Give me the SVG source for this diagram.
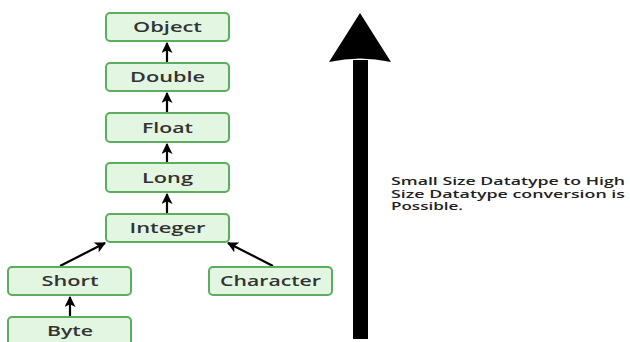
<svg xmlns="http://www.w3.org/2000/svg" width="630" height="342" viewBox="0 0 630 342">
  <style>
    .box { fill: #e2f6e1; stroke: #5cad60; stroke-width: 2; }
    .lbl { font-family: "Open Sans", "Liberation Sans", sans-serif; font-weight: 600; font-size: 15px; fill: #333333; text-anchor: middle; }
    .edge { stroke: #000000; stroke-width: 2.2; fill: none; marker-end: url(#head); }
    .note { font-family: "Open Sans", "Liberation Sans", sans-serif; font-weight: 600; font-size: 10.5px; fill: #222222; }
  </style>
  <defs>
    <marker id="head" viewBox="0 0 10 10" refX="9" refY="5" markerWidth="5" markerHeight="5" markerUnits="strokeWidth" orient="auto">
      <path d="M0,0 L10,5 L0,10 L2.5,5 Z" fill="#000000"/>
    </marker>
  </defs>
  <rect width="630" height="342" fill="#ffffff"/>

  <g id="connectors">
    <line class="edge" x1="167" y1="63" x2="167" y2="43"/>
    <line class="edge" x1="167" y1="113" x2="167" y2="93"/>
    <line class="edge" x1="167" y1="163" x2="167" y2="144"/>
    <line class="edge" x1="167" y1="214" x2="167" y2="194"/>
    <line class="edge" x1="60" y1="266" x2="105" y2="243"/>
    <line class="edge" x1="273" y1="266" x2="228" y2="243"/>
    <line class="edge" x1="70" y1="317" x2="70" y2="297"/>
  </g>

  <g id="node-object">
    <rect class="box" x="106" y="13" width="123" height="28" rx="4"/>
    <text class="lbl" x="167.5" y="32" textLength="69" lengthAdjust="spacingAndGlyphs">Object</text>
  </g>
  <g id="node-double">
    <rect class="box" x="106" y="63" width="123" height="28" rx="4"/>
    <text class="lbl" x="167.5" y="82" textLength="75" lengthAdjust="spacingAndGlyphs">Double</text>
  </g>
  <g id="node-float">
    <rect class="box" x="106" y="113" width="123" height="29" rx="4"/>
    <text class="lbl" x="167.5" y="132.5" textLength="51" lengthAdjust="spacingAndGlyphs">Float</text>
  </g>
  <g id="node-long">
    <rect class="box" x="106" y="163" width="123" height="29" rx="4"/>
    <text class="lbl" x="167.5" y="182.5" textLength="51" lengthAdjust="spacingAndGlyphs">Long</text>
  </g>
  <g id="node-integer">
    <rect class="box" x="106" y="214" width="123" height="28" rx="4"/>
    <text class="lbl" x="167.5" y="233" textLength="76" lengthAdjust="spacingAndGlyphs">Integer</text>
  </g>
  <g id="node-short">
    <rect class="box" x="8" y="267" width="123" height="28" rx="4"/>
    <text class="lbl" x="70" y="286" textLength="57" lengthAdjust="spacingAndGlyphs">Short</text>
  </g>
  <g id="node-character">
    <rect class="box" x="209" y="267" width="123" height="28" rx="4"/>
    <text class="lbl" x="270.5" y="286" textLength="101" lengthAdjust="spacingAndGlyphs">Character</text>
  </g>
  <g id="node-byte">
    <rect class="box" x="8" y="317" width="123" height="30" rx="4"/>
    <text class="lbl" x="70" y="336" textLength="46" lengthAdjust="spacingAndGlyphs">Byte</text>
  </g>

  <g id="direction-arrow">
    <rect x="353" y="60" width="15" height="279" fill="#000000"/>
    <path d="M360,13 L391,62 Q360,55 329,62 Z" fill="#000000"/>
  </g>

  <g id="note">
    <text class="note" x="391" y="185" textLength="234" lengthAdjust="spacingAndGlyphs">Small Size Datatype to High</text>
    <text class="note" x="391" y="197.5" textLength="234" lengthAdjust="spacingAndGlyphs">Size Datatype conversion is</text>
    <text class="note" x="391" y="210" textLength="72" lengthAdjust="spacingAndGlyphs">Possible.</text>
  </g>
</svg>
